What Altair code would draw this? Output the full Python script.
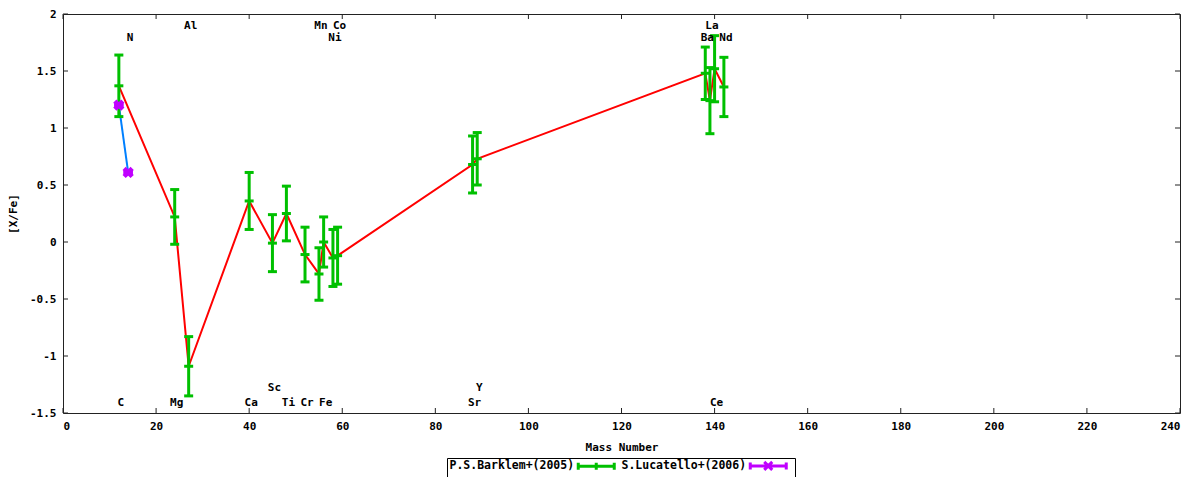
import altair as alt
import pandas as pd

# ---- data ----
bark_el = ["C", "Mg", "Al", "Ca", "Sc", "Ti", "Cr", "Mn", "Fe", "Ni", "Co",
           "Sr", "Y", "Ba", "La", "Ce", "Nd"]
bark_mass = [12, 24, 27, 40, 45, 48, 52, 55, 56, 58, 59, 88, 89, 138, 139, 140, 142]
bark_val = [1.37, 0.22, -1.09, 0.36, -0.01, 0.25, -0.11, -0.28, 0.00, -0.14, -0.12,
            0.68, 0.73, 1.48, 1.24, 1.52, 1.36]
bark_err = [0.27, 0.24, 0.26, 0.25, 0.25, 0.24, 0.24, 0.23, 0.22, 0.25, 0.25,
            0.25, 0.23, 0.23, 0.29, 0.29, 0.26]

luc_el = ["C", "N"]
luc_mass = [12, 14]
luc_val = [1.20, 0.61]
luc_err = [0.0, 0.0]

label_el = ["C", "N", "Mg", "Al", "Ca", "Sc", "Ti", "Cr", "Mn", "Fe", "Ni", "Co",
            "Sr", "Y", "Ba", "La", "Ce", "Nd"]
label_mass = [12, 14, 24, 27, 40, 45, 48, 52, 55, 56, 58, 59, 88, 89, 138, 139, 140, 142]
label_row = ["b2", "t2", "b2", "t1", "b2", "b1", "b2", "b2", "t1", "b2", "t2", "t1",
             "b2", "b1", "t2", "t1", "b2", "t2"]

series_names = ["P.S.Barklem+(2005)", "S.Lucatello+(2006)"]
x_ticks = [0, 20, 40, 60, 80, 100, 120, 140, 160, 180, 200, 220, 240]
y_ticks = [-1.5, -1, -0.5, 0, 0.5, 1, 1.5, 2]

# ---- styles ----
GREEN = "#00c000"
PURPLE = "#c000ff"
RED = "#ff0000"
BLUE = "#0080ff"
FONT = "DejaVu Sans Mono"
W, H = 1117, 399
row_y = {"t1": 1.895, "t2": 1.79, "b1": -1.28, "b2": -1.41}

bark = pd.DataFrame({"el": bark_el, "mass": bark_mass, "val": bark_val, "err": bark_err})
bark["lo"] = bark["val"] - bark["err"]
bark["hi"] = bark["val"] + bark["err"]
luc = pd.DataFrame({"el": luc_el, "mass": luc_mass, "val": luc_val, "err": luc_err})
luc["lo"] = luc["val"] - luc["err"]
luc["hi"] = luc["val"] + luc["err"]

def caps(df):
    rows = []
    for _, r in df.iterrows():
        for k in ("lo", "val", "hi"):
            rows.append({"mass": r["mass"], "v": r[k]})
    return pd.DataFrame(rows)

bark_caps = caps(bark)
luc_caps = caps(luc)

labels = pd.DataFrame({"el": label_el, "mass": label_mass,
                       "y": [row_y[r] for r in label_row]})

xs = alt.Scale(domain=[0, 240], nice=False, zero=False)
ys = alt.Scale(domain=[-1.5, 2], nice=False, zero=False)

def xaxis():
    return alt.Axis(title="Mass Number", values=x_ticks, ticks=False, domain=False,
                    grid=False, labelPadding=7, titlePadding=10,
                    labelExpr="'' + datum.value")

def yaxis():
    return alt.Axis(title="[X/Fe]", values=y_ticks, ticks=False, domain=False,
                    grid=False, labelPadding=7, titlePadding=11,
                    labelExpr="'' + datum.value")

def X(f):
    return alt.X(f, scale=xs, axis=xaxis())

def Y(f):
    return alt.Y(f, scale=ys, axis=yaxis())

red_line = alt.Chart(bark).mark_line(color=RED, strokeWidth=2).encode(
    x=X("mass:Q"), y=Y("val:Q"))
blue_line = alt.Chart(luc).mark_line(color=BLUE, strokeWidth=2).encode(
    x=X("mass:Q"), y=Y("val:Q"))
green_bars = alt.Chart(bark).mark_rule(color=GREEN, strokeWidth=3).encode(
    x=X("mass:Q"), y=Y("lo:Q"), y2="hi:Q")
green_caps = alt.Chart(bark_caps).mark_tick(
    color=GREEN, orient="horizontal", size=9, thickness=3, opacity=1).encode(
    x=X("mass:Q"), y=Y("v:Q"))
purple_caps = alt.Chart(luc_caps).mark_tick(
    color=PURPLE, orient="horizontal", size=9, thickness=3, opacity=1).encode(
    x=X("mass:Q"), y=Y("v:Q"))
purple_pts = alt.Chart(luc).mark_point(
    shape="cross", angle=45, filled=True, size=130, color=PURPLE, opacity=1).encode(
    x=X("mass:Q"), y=Y("val:Q"))
elem_text = alt.Chart(labels).mark_text(
    font=FONT, fontSize=11, fontWeight="bold", color="black",
    align="center", baseline="middle", dx=2).encode(
    x=X("mass:Q"), y=Y("y:Q"), text="el:N")

xt = pd.DataFrame({"t": x_ticks})
yt = pd.DataFrame({"t": y_ticks})
TK = 5
tick_style = dict(color="#222", strokeWidth=1)
xt_bottom = alt.Chart(xt).mark_rule(**tick_style).encode(
    x=X("t:Q"), y=alt.value(H), y2=alt.value(H - TK))
xt_top = alt.Chart(xt).mark_rule(**tick_style).encode(
    x=X("t:Q"), y=alt.value(0), y2=alt.value(TK))
yt_left = alt.Chart(yt).mark_rule(**tick_style).encode(
    y=Y("t:Q"), x=alt.value(0), x2=alt.value(TK))
yt_right = alt.Chart(yt).mark_rule(**tick_style).encode(
    y=Y("t:Q"), x=alt.value(W), x2=alt.value(W - TK))

# legend-only layer (no data drawn); symbol drawn to the right of its label
leg_df = pd.DataFrame({"series": series_names, "mass": [-10, -10], "val": [0, 0]})
S0, S1 = 123.5, 159.5
SM = (S0 + S1) / 2
shape_green = f"M{S0},0H{S1}M{S0},-3.5V3.5M{S1},-3.5V3.5M{SM},-3.5V3.5"
shape_purple = (f"M{S0},0H{S1}M{S0},-3.5V3.5M{S1},-3.5V3.5"
                f"M{SM-4},-4L{SM+4},4M{SM-4},4L{SM+4},-4")
legend_layer = alt.Chart(leg_df).transform_filter("datum.mass > 0").mark_point(
    filled=False, strokeWidth=3, opacity=1).encode(
    x=X("mass:Q"), y=Y("val:Q"),
    color=alt.Color("series:N",
                    scale=alt.Scale(domain=series_names, range=[GREEN, PURPLE]),
                    legend=alt.Legend(title=None)),
    shape=alt.Shape("series:N",
                    scale=alt.Scale(domain=series_names, range=[shape_green, shape_purple]),
                    legend=alt.Legend(title=None)),
)

chart = alt.layer(
    red_line, blue_line, green_bars, green_caps, purple_caps, purple_pts,
    elem_text, xt_bottom, xt_top, yt_left, yt_right, legend_layer,
).properties(
    width=W, height=H,
    autosize=alt.AutoSizeParams(type="none"),
    padding={"left": 55, "top": 6, "right": 10, "bottom": 64},
).configure_view(
    stroke="#222", strokeWidth=1
).configure_axis(
    labelFont=FONT, labelFontSize=11, labelFontWeight="bold", labelColor="black",
    titleFont=FONT, titleFontSize=11, titleFontWeight="bold", titleColor="black",
).configure_legend(
    orient="none", legendX=384, legendY=444, direction="horizontal", columns=2,
    labelFont=FONT, labelFontSize=11.5, labelFontWeight="bold", labelColor="black",
    symbolSize=4, symbolStrokeWidth=3, symbolOpacity=1,
    strokeColor="black", fillColor="white", padding=2, cornerRadius=0,
    columnPadding=0, labelOffset={"expr": "-11"},
)

chart.save("out.html", embed_options={"renderer": "svg", "actions": False})
